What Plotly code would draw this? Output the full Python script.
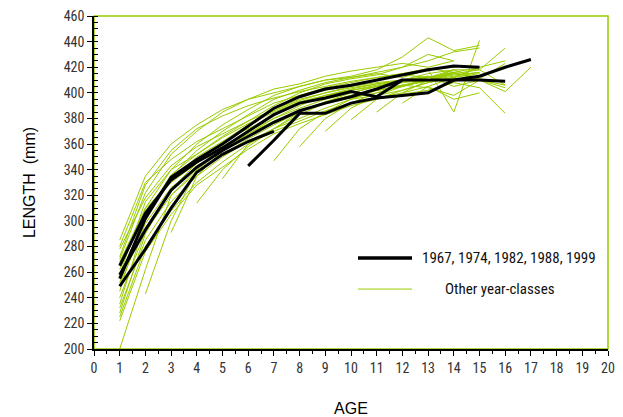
import plotly.graph_objects as go

# ---- data ----
# highlighted year-classes: (start age, lengths by consecutive age)
black_labels = ["1967", "1974", "1982", "1988", "1999"]
black_starts = [6, 1, 1, 1, 1]
black_values = [
    [343, 363, 384, 384, 392, 396, 398, 400, 410, 413, 420, 426],
    [255, 302, 334, 348, 360, 374, 388, 397, 403, 406, 410, 414, 418, 421, 420],
    [265, 306, 332, 346, 357, 370, 383, 392, 396, 401, 397, 410, 410, 410, 410, 409],
    [258, 293, 324, 342, 355, 366, 377, 386, 392, 397, 403, 410],
    [249, 278, 310, 338, 352, 362, 370],
]

# other year-classes
green_starts = [1, 1, 1, 1, 1, 1, 1, 1, 1, 1, 1, 1, 1, 1, 1, 1, 1, 1,
                2, 3, 4, 5, 7, 8, 9, 10, 11, 12]
green_values = [
    [228, 290, 325, 345, 362, 375, 388, 398, 404, 408, 412, 415, 418, 420],
    [235, 300, 335, 355, 370, 383, 395, 402, 408, 412, 416, 420, 425, 432, 435],
    [245, 310, 340, 360, 375, 387, 398, 405, 410, 413, 418, 428, 443, 433, 437],
    [270, 322, 352, 370, 385, 395, 403, 407, 413, 417, 420, 423, 420, 425],
    [285, 335, 360, 375, 387, 395, 400, 405, 410, 412, 415, 412, 418, 385, 441],
    [278, 318, 343, 358, 368, 378, 387, 395, 400, 405, 408, 410, 415, 418, 418, 435],
    [262, 308, 332, 350, 362, 372, 382, 392, 398, 402, 406, 410, 413, 408, 404, 384],
    [250, 298, 326, 342, 356, 368, 378, 386, 392, 398, 402, 405, 410, 418, 411, 423],
    [240, 292, 320, 338, 352, 364, 375, 385, 392, 396, 400, 406, 404, 398, 410],
    [232, 285, 315, 335, 350, 362, 372, 380, 388, 395, 398, 402, 408, 412, 415],
    [258, 315, 340, 352, 365, 376, 386, 394, 400, 404, 407, 409, 413, 405, 410, 406],
    [268, 310, 330, 345, 358, 370, 380, 388, 395, 400, 405, 408, 412, 416, 410, 401, 420],
    [200, 262, 320, 340, 355, 366, 377, 386, 393, 398, 402, 406, 409, 412],
    [225, 280, 308, 330, 346, 360, 370, 378, 386, 392, 396, 400, 405, 395, 400],
    [222, 276, 305, 328, 342, 356, 368, 376, 383, 390, 395, 399, 402, 408],
    [272, 328, 355, 372, 382, 390, 396, 401, 405, 409, 412, 415, 419, 416],
    [252, 305, 336, 352, 366, 378, 390, 400, 407, 411, 414, 420, 430, 425],
    [280, 330, 348, 362, 372, 382, 392, 398, 402, 406, 410, 414, 412],
    [243, 300, 340, 360, 375, 385, 393, 398, 402, 405, 408, 410, 414, 416],
    [291, 335, 355, 368, 380, 390, 398, 403, 407, 410, 412, 415],
    [314, 340, 358, 372, 383, 392, 398, 402, 406, 410, 415],
    [333, 360, 372, 385, 393, 400, 405, 410, 412, 418],
    [347, 372, 385, 395, 402, 405, 410, 413, 416],
    [358, 380, 392, 400, 405, 412, 416, 420],
    [370, 388, 398, 405, 410, 415, 418, 406],
    [379, 395, 402, 408, 412, 420, 425],
    [385, 400, 410, 416, 410, 404],
    [392, 405, 412, 420],
]

x_ticks = list(range(0, 21))
y_ticks = list(range(200, 461, 20))

GREEN = "#99CC00"
FONT = "Liberation Sans Narrow, Arial Narrow, Roboto Condensed, Liberation Sans, sans-serif"
TFONT = "Liberation Sans, Arial, sans-serif"

fig = go.Figure()

for s, vals in zip(green_starts, green_values):
    fig.add_trace(go.Scatter(
        x=list(range(s, s + len(vals))), y=vals, mode="lines",
        line=dict(color=GREEN, width=1), showlegend=False, hoverinfo="skip"))

for lab, s, vals in zip(black_labels, black_starts, black_values):
    fig.add_trace(go.Scatter(
        x=list(range(s, s + len(vals))), y=vals, mode="lines", name=lab,
        line=dict(color="black", width=3), showlegend=False))

# plot-area border (green)
fig.add_shape(type="rect", xref="paper", yref="paper", x0=0, y0=0, x1=1, y1=1,
              line=dict(color=GREEN, width=1.5), layer="below")

# custom legend
fig.add_shape(type="line", xref="paper", yref="paper", x0=0.5136, x1=0.6187,
              y0=0.273, y1=0.273, line=dict(color="black", width=3.5))
fig.add_shape(type="line", xref="paper", yref="paper", x0=0.5136, x1=0.6187,
              y0=0.180, y1=0.180, line=dict(color=GREEN, width=1))
fig.add_annotation(xref="paper", yref="paper", x=0.634, y=0.273,
                   text=", ".join(black_labels), showarrow=False,
                   xanchor="left", yanchor="middle",
                   font=dict(family=FONT, size=15, color="#111111"))
fig.add_annotation(xref="paper", yref="paper", x=0.79, y=0.180,
                   text="Other year-classes", showarrow=False,
                   xanchor="center", yanchor="middle",
                   font=dict(family=FONT, size=15, color="#111111"))

fig.update_layout(
    width=623, height=417,
    margin=dict(l=94, r=15, t=16, b=68),
    paper_bgcolor="white", plot_bgcolor="white",
    font=dict(family=FONT, size=14, color="#333333"),
    xaxis=dict(
        range=[0, 20], tickvals=x_ticks, ticktext=[str(v) for v in x_ticks],
        showgrid=False, zeroline=False, automargin=False,
        showline=True, linecolor="black", linewidth=1.5,
        ticks="outside", ticklen=5, tickcolor="black", tickwidth=1,
        tickfont=dict(family=FONT, size=14, color="#333333"),
        minor=dict(dtick=0.5, ticks="outside", ticklen=3, tickcolor="black", showgrid=False),
        title=dict(text="AGE", standoff=28,
                   font=dict(family=TFONT, size=16, color="#000000")),
    ),
    yaxis=dict(
        range=[200, 460], tickvals=y_ticks, ticktext=[str(v) for v in y_ticks],
        showgrid=False, zeroline=False, automargin=False,
        showline=True, linecolor="black", linewidth=1.5,
        ticks="outside", ticklen=5, tickcolor="black", tickwidth=1,
        tickfont=dict(family=FONT, size=14, color="#333333"),
        minor=dict(dtick=5, ticks="inside", ticklen=4, tickcolor="black", showgrid=False),
        title=dict(text="LENGTH  (mm)", standoff=24,
                   font=dict(family=TFONT, size=16, color="#000000")),
    ),
)

fig.write_html("out.html")
